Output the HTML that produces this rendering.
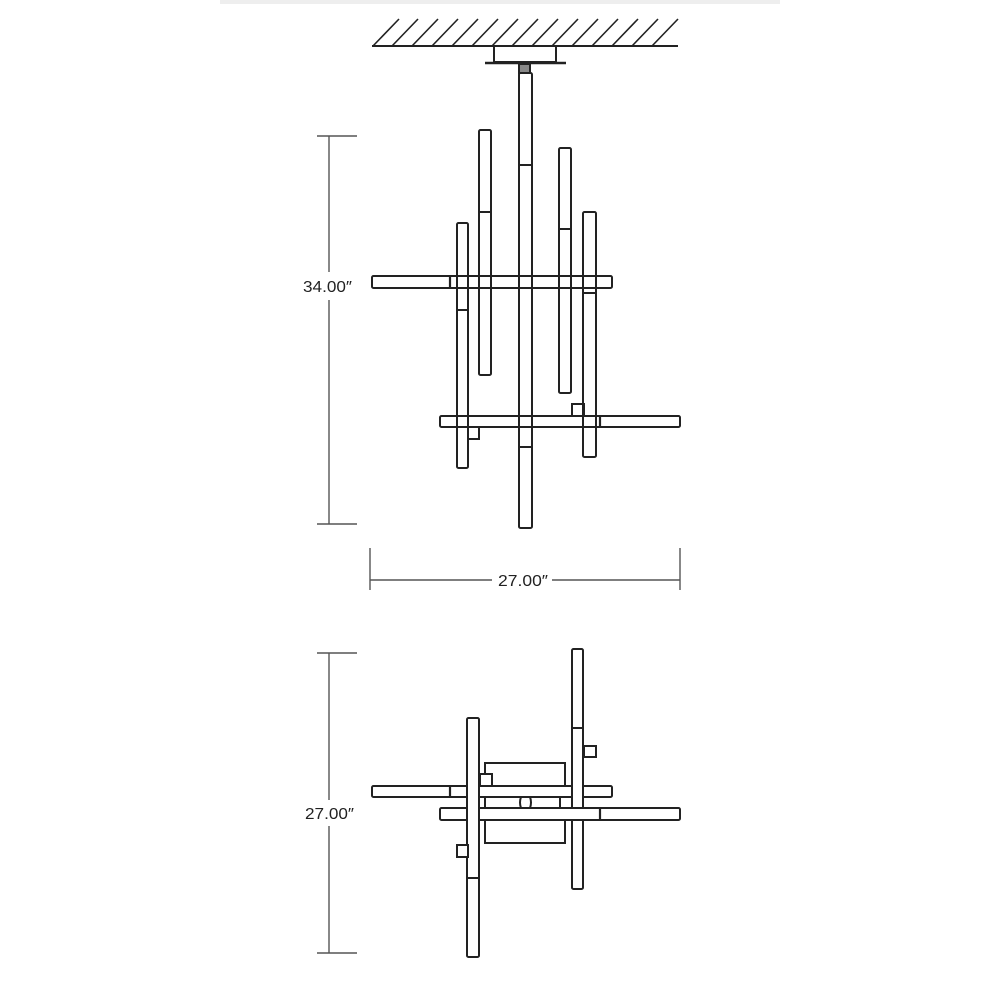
<!DOCTYPE html>
<html><head><meta charset="utf-8"><style>
html,body{margin:0;padding:0;background:#fff;}
svg{display:block;}
text{font-family:"Liberation Sans",sans-serif;font-size:16px;fill:#222;}
</style></head><body>
<svg width="1000" height="1000" viewBox="0 0 1000 1000" xmlns="http://www.w3.org/2000/svg">
<rect x="220" y="0" width="560" height="4" fill="#eeeeee"/>
<g stroke="#222" stroke-width="2" fill="none">
<line x1="372" y1="46" x2="678" y2="46"/>
<g stroke-width="1.6">
<line x1="373" y1="46" x2="399" y2="19"/><line x1="392" y1="46" x2="418" y2="19"/><line x1="412" y1="46" x2="438" y2="19"/><line x1="432" y1="46" x2="458" y2="19"/><line x1="452" y1="46" x2="478" y2="19"/><line x1="472" y1="46" x2="498" y2="19"/><line x1="492" y1="46" x2="518" y2="19"/><line x1="512" y1="46" x2="538" y2="19"/><line x1="532" y1="46" x2="558" y2="19"/><line x1="552" y1="46" x2="578" y2="19"/><line x1="572" y1="46" x2="598" y2="19"/><line x1="592" y1="46" x2="618" y2="19"/><line x1="612" y1="46" x2="638" y2="19"/><line x1="632" y1="46" x2="658" y2="19"/><line x1="652" y1="46" x2="678" y2="19"/>
</g>
<rect x="494" y="46" width="62" height="16" fill="#fff"/>
<line x1="485" y1="63" x2="566" y2="63" stroke-width="2.5"/>
<rect x="519" y="64" width="11" height="9" fill="#888"/>
<rect x="519" y="73" width="13" height="455" rx="1.5"/>
<line x1="519" y1="165" x2="532" y2="165"/><line x1="519" y1="447" x2="532" y2="447"/>
<rect x="479" y="130" width="12" height="245" rx="1.5"/><line x1="479" y1="212" x2="491" y2="212"/>
<rect x="559" y="148" width="12" height="245" rx="1.5"/><line x1="559" y1="229" x2="571" y2="229"/>
<rect x="583" y="212" width="13" height="245" rx="1.5"/><line x1="583" y1="293" x2="596" y2="293"/>
<rect x="457" y="223" width="11" height="245" rx="1.5"/><line x1="457" y1="310" x2="468" y2="310"/>
<rect x="372" y="276" width="240" height="12" rx="1.5"/><line x1="450" y1="276" x2="450" y2="288" stroke-width="2.2"/>
<rect x="440" y="416" width="240" height="11" rx="1.5"/><line x1="600" y1="416" x2="600" y2="427" stroke-width="2.2"/>
<rect x="572" y="404" width="12" height="12"/>
<rect x="468" y="427" width="11" height="12"/>
<g stroke="#555" stroke-width="1.4">
<line x1="329" y1="136" x2="329" y2="272"/><line x1="329" y1="300" x2="329" y2="524"/>
<line x1="317" y1="136" x2="357" y2="136"/><line x1="317" y1="524" x2="357" y2="524"/>
<line x1="370" y1="580" x2="492" y2="580"/><line x1="552" y1="580" x2="680" y2="580"/>
<line x1="370" y1="548" x2="370" y2="590"/><line x1="680" y1="548" x2="680" y2="590"/>
<line x1="329" y1="653" x2="329" y2="800"/><line x1="329" y1="826" x2="329" y2="953"/>
<line x1="317" y1="653" x2="357" y2="653"/><line x1="317" y1="953" x2="357" y2="953"/>
</g>
<rect x="485" y="763" width="80" height="80" fill="#fff"/>
<rect x="372" y="786" width="240" height="11" rx="1.5" fill="#fff"/><line x1="450" y1="786" x2="450" y2="797" stroke-width="2.2"/>
<rect x="480" y="774" width="12" height="12" fill="#fff"/>
<rect x="572" y="649" width="11" height="240" rx="1.5" fill="#fff"/><line x1="572" y1="728" x2="583" y2="728"/>
<rect x="584" y="746" width="12" height="11" fill="#fff"/>
<rect x="560" y="797" width="12" height="11" fill="#fff"/>
<path d="M521 797 q-2 5.5 0 11 M530 797 q2 5.5 0 11"/>
<rect x="440" y="808" width="240" height="12" rx="1.5" fill="#fff"/><line x1="600" y1="808" x2="600" y2="820" stroke-width="2.2"/>
<rect x="467" y="718" width="12" height="239" rx="1.5" fill="#fff"/><line x1="467" y1="878" x2="479" y2="878"/>
<rect x="457" y="845" width="11" height="12" fill="#fff"/>
</g>
<text x="303" y="292" textLength="49" lengthAdjust="spacingAndGlyphs">34.00″</text>
<text x="498" y="586" textLength="50" lengthAdjust="spacingAndGlyphs">27.00″</text>
<text x="305" y="819" textLength="49" lengthAdjust="spacingAndGlyphs">27.00″</text>
</svg>
</body></html>
